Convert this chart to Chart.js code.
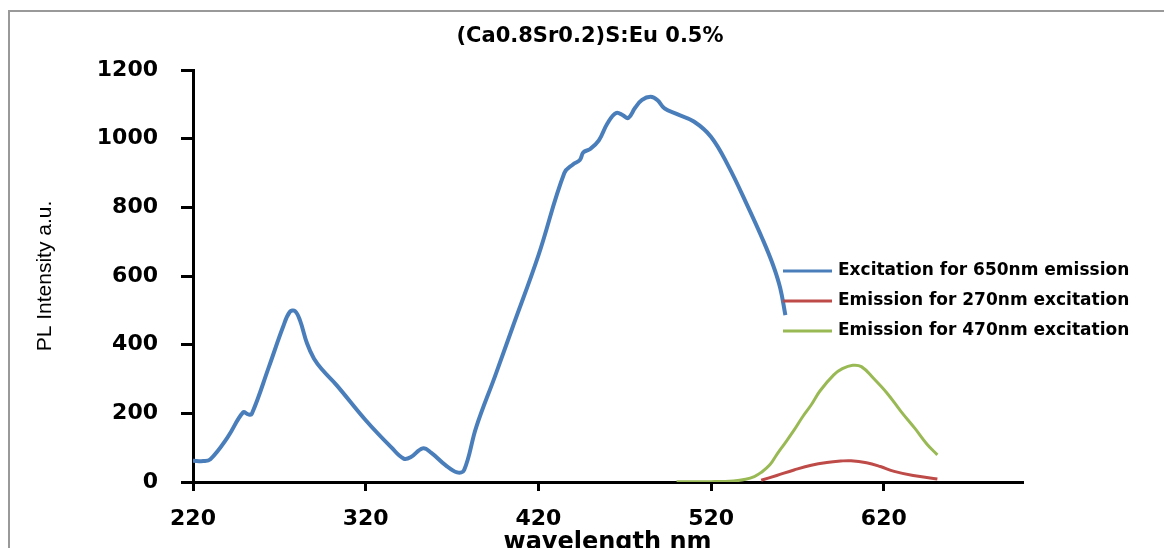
<!DOCTYPE html>
<html>
<head>
<meta charset="utf-8">
<script src="https://cdn.jsdelivr.net/npm/chart.js@4.4.1/dist/chart.umd.min.js"></script>
<style>
    html, body { margin: 0; padding: 0; background: #fff; overflow: hidden; }
    .frame {
        position: absolute; left: 8px; top: 10px; width: 1200px; height: 600px;
        border: 2px solid #999; box-sizing: border-box;
    }
    .wrap { position: absolute; left: 0; top: 0; width: 1164px; height: 548px; }
</style>
</head>
<body>
<div class="frame"></div>
<div class="wrap"><canvas id="plChart" width="1164" height="548"></canvas></div>
<script>
// Excitation spectrum (blue), monitored at 650 nm
const excitationX = [220, 226, 230, 240, 249, 252, 254, 264, 272, 276, 279, 282, 286, 290, 295, 303, 320, 335, 342, 346, 353, 358, 366, 373, 377, 384, 395, 405, 420, 435, 440, 444, 446, 450, 455, 460, 465, 469, 472, 476, 480, 485, 489, 493, 500, 510, 520, 530, 541, 550, 556, 560, 563];
const excitationY = [62, 61, 66, 130, 203, 197, 198, 336, 450, 495, 498, 470, 404, 360, 326, 283, 180, 100, 68, 72, 98, 85, 50, 28, 35, 160, 310, 450, 660, 900, 925, 938, 960, 970, 995, 1045, 1075, 1068, 1060, 1090, 1113, 1122, 1112, 1088, 1072, 1050, 1005, 920, 805, 705, 630, 565, 486];

// Emission under 270 nm excitation (red)
const emission270X = [549, 558, 568, 578, 587, 595, 601, 610, 618, 626, 637, 651];
const emission270Y = [5, 19, 35, 49, 57, 61, 62, 56, 45, 31, 19, 9];

// Emission under 470 nm excitation (green)
const emission470X = [500, 520, 533, 540, 545, 549, 554, 558, 563, 568, 573, 578, 583, 591, 596, 602, 607, 614, 622, 630, 638, 645, 651];
const emission470Y = [1, 1, 3, 8, 16, 28, 50, 80, 115, 151, 190, 225, 265, 312, 330, 340, 336, 302, 258, 205, 156, 110, 79];

const xTicks = [220, 320, 420, 520, 620];
const yTicks = [0, 200, 400, 600, 800, 1000, 1200];

const chartTitle = '(Ca0.8Sr0.2)S:Eu 0.5%';

const toPoints = (xs, ys) => xs.map((x, i) => ({ x: x, y: ys[i] }));

// Title and legend are placed by hand, like in the original sheet
const sheetLabels = {
    id: 'sheetLabels',
    afterDraw(chart) {
        const c = chart.ctx;
        c.save();
        c.fillStyle = '#000';
        c.textAlign = 'center';
        c.textBaseline = 'middle';
        c.font = 'bold 21px "DejaVu Sans"';
        c.fillText(chartTitle, 590, 37);

        c.textAlign = 'left';
        c.font = 'bold 17px "DejaVu Sans"';
        chart.data.datasets.forEach((ds, i) => {
            const y = 271 + i * 30;
            c.strokeStyle = ds.borderColor;
            c.lineWidth = 3;
            c.beginPath();
            c.moveTo(783, y);
            c.lineTo(832, y);
            c.stroke();
            c.fillText(ds.label, 838, y);
        });
        c.restore();
    }
};

const ctx = document.getElementById('plChart').getContext('2d');

new Chart(ctx, {
    type: 'scatter',
    data: {
        datasets: [
            {
                label: 'Excitation for 650nm emission',
                data: toPoints(excitationX, excitationY),
                borderColor: '#4A7EBB',
                borderWidth: 4,
                showLine: true,
                pointRadius: 0,
                tension: 0.4
            },
            {
                label: 'Emission for 270nm excitation',
                data: toPoints(emission270X, emission270Y),
                borderColor: '#BE4B48',
                borderWidth: 3,
                showLine: true,
                pointRadius: 0,
                tension: 0.4
            },
            {
                label: 'Emission for 470nm excitation',
                data: toPoints(emission470X, emission470Y),
                borderColor: '#98B954',
                borderWidth: 3,
                showLine: true,
                pointRadius: 0,
                tension: 0.4
            }
        ]
    },
    options: {
        responsive: false,
        animation: false,
        layout: { padding: { left: 0, right: 142, top: 70, bottom: 0 } },
        plugins: {
            legend: { display: false },
            tooltip: { enabled: false },
            title: { display: false }
        },
        scales: {
            x: {
                type: 'linear',
                min: 220,
                max: 700,
                afterBuildTicks: scale => {
                    scale.ticks = xTicks.map(v => ({ value: v }));
                },
                afterFit: scale => { scale.height = 66; },
                border: { color: '#000', width: 3 },
                grid: { drawOnChartArea: false, drawTicks: true, tickLength: 9, color: '#000', lineWidth: 3 },
                ticks: {
                    color: '#000',
                    padding: 15,
                    callback: v => String(v),
                    font: { family: '"DejaVu Sans"', size: 22, weight: 'bold' }
                },
                title: {
                    display: true,
                    text: 'wavelength nm',
                    color: '#000',
                    font: { family: '"DejaVu Sans"', size: 24, weight: 'bold', lineHeight: 1 },
                    padding: { top: 0, bottom: -7 }
                }
            },
            y: {
                min: 0,
                max: 1200,
                afterBuildTicks: scale => {
                    scale.ticks = yTicks.map(v => ({ value: v }));
                },
                afterFit: scale => { scale.width = 193; },
                border: { color: '#000', width: 3 },
                grid: { drawOnChartArea: false, drawTicks: true, tickLength: 12, color: '#000', lineWidth: 3 },
                ticks: {
                    color: '#000',
                    padding: 23,
                    callback: v => String(v),
                    font: { family: '"DejaVu Sans"', size: 22, weight: 'bold' }
                },
                title: {
                    display: true,
                    text: 'PL Intensity a.u.',
                    color: '#000',
                    font: { family: '"Liberation Sans Narrow", "Liberation Sans"', size: 21, lineHeight: 1.2 },
                    padding: { top: 33, bottom: 0 }
                }
            }
        }
    },
    plugins: [sheetLabels]
});
</script>
</body>
</html>
